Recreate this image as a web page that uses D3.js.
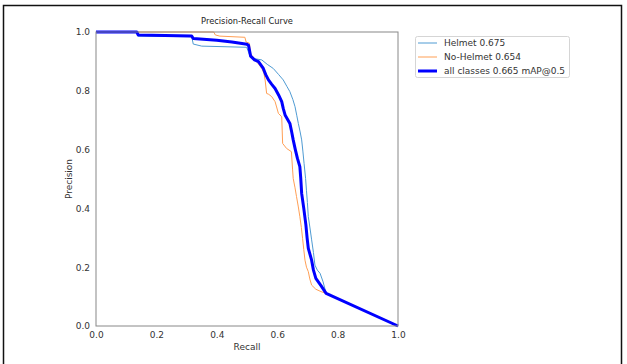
<!DOCTYPE html>
<html><head><meta charset="utf-8">
<script src="https://cdn.jsdelivr.net/npm/d3@7"></script>
<style>
html,body{margin:0;padding:0;background:#fff;}
svg{display:block;font-family:"DejaVu Sans",sans-serif;}
</style></head>
<body><svg id="c" width="627" height="364"></svg>
<script>
// ---- data ----
const title = "Precision-Recall Curve";
const xLabel = "Recall";
const yLabel = "Precision";
const tickValues = [0.0, 0.2, 0.4, 0.6, 0.8, 1.0];
const seriesNames = ["Helmet 0.675", "No-Helmet 0.654", "all classes 0.665 mAP@0.5"];

const helmetRecall = [0,0.135,0.138,0.317,0.322,0.35,0.499,0.51,0.521,0.549,0.567,0.587,0.605,0.62,0.632,0.642,0.652,0.659,0.665,0.67,0.676,0.681,0.685,0.689,0.694,0.697,0.70,0.703,0.709,0.714,0.72,0.725,0.733,0.742,0.752,0.762,1.0];
const helmetPrecision = [1,1,0.986,0.984,0.959,0.952,0.948,0.918,0.91,0.905,0.89,0.876,0.855,0.837,0.815,0.797,0.77,0.746,0.715,0.689,0.66,0.633,0.595,0.553,0.502,0.46,0.42,0.372,0.33,0.293,0.25,0.207,0.19,0.179,0.15,0.111,0.0];

const noHelmetRecall = [0,0.39,0.395,0.41,0.493,0.497,0.508,0.512,0.52,0.532,0.549,0.556,0.56,0.565,0.572,0.582,0.593,0.598,0.604,0.615,0.618,0.631,0.647,0.651,0.653,0.659,0.664,0.67,0.675,0.68,0.684,0.688,0.692,0.697,0.703,0.708,0.714,0.728,0.745,0.762,1.0];
const noHelmetPrecision = [1,1,0.99,0.986,0.982,0.966,0.962,0.925,0.915,0.899,0.876,0.86,0.837,0.791,0.788,0.78,0.763,0.745,0.723,0.712,0.621,0.604,0.593,0.531,0.502,0.47,0.44,0.405,0.372,0.335,0.298,0.26,0.224,0.2,0.185,0.16,0.139,0.125,0.117,0.111,0.0];

const allRecall = [0,0.135,0.14,0.317,0.322,0.40,0.45,0.50,0.505,0.512,0.525,0.538,0.554,0.562,0.571,0.582,0.593,0.605,0.615,0.62,0.626,0.642,0.648,0.653,0.66,0.667,0.675,0.678,0.681,0.688,0.695,0.699,0.703,0.714,0.72,0.728,0.745,0.762,1.0];
const allPrecision = [1,1,0.99,0.986,0.978,0.972,0.966,0.958,0.955,0.918,0.905,0.899,0.876,0.855,0.837,0.822,0.808,0.785,0.763,0.74,0.718,0.689,0.66,0.633,0.6,0.57,0.542,0.502,0.451,0.4,0.344,0.3,0.264,0.224,0.19,0.162,0.137,0.111,0.0];

// ---- drawing ----
const svg = d3.select("#c");
const L = 96, R = 398, T = 32, B = 326;
const x = d3.scaleLinear().domain([0,1]).range([L,R]);
const y = d3.scaleLinear().domain([0,1]).range([B,T]);

// outer frame
svg.append("path").attr("d","M3.5,364 L3.5,5.5 L621.5,5.5 L621.5,364")
  .attr("fill","none").attr("stroke","#111").attr("stroke-width",1.5);

const series = [
  {name:seriesNames[0], r:helmetRecall, p:helmetPrecision, color:"#4f9bd3", w:1},
  {name:seriesNames[1], r:noHelmetRecall, p:noHelmetPrecision, color:"#ff9f55", w:1},
  {name:seriesNames[2], r:allRecall, p:allPrecision, color:"#0000ff", w:3}
];
const line = d3.line().x(d=>x(d[0])).y(d=>y(d[1]));
const clip = svg.append("clipPath").attr("id","pc").append("rect")
  .attr("x",L-2).attr("y",T-2).attr("width",R-L+4).attr("height",B-T+4);
const g = svg.append("g").attr("clip-path","url(#pc)");
series.forEach(s=>{
  g.append("path").datum(s.r.map((v,i)=>[v,s.p[i]]))
    .attr("d",line).attr("fill","none").attr("stroke",s.color)
    .attr("stroke-width",s.w).attr("stroke-linejoin","round");
});

// spines
svg.append("rect").attr("x",L).attr("y",T).attr("width",R-L).attr("height",B-T)
  .attr("fill","none").attr("stroke","#888").attr("stroke-width",1);

// axes
const xa = svg.append("g").attr("transform",`translate(0,${B})`)
  .call(d3.axisBottom(x).tickValues(tickValues).tickFormat(d3.format(".1f")).tickSize(0).tickPadding(6));
const ya = svg.append("g").attr("transform",`translate(${L},0)`)
  .call(d3.axisLeft(y).tickValues(tickValues).tickFormat(d3.format(".1f")).tickSize(0).tickPadding(6));
[xa,ya].forEach(a=>{
  a.select(".domain").remove();
  a.selectAll("text").attr("font-size",9).attr("fill","#333").attr("font-family","DejaVu Sans");
});

svg.append("text").attr("x",(L+R)/2).attr("y",24).attr("text-anchor","middle")
  .attr("font-size",8.3).attr("fill","#222").text(title);
svg.append("text").attr("x",(L+R)/2).attr("y",350).attr("text-anchor","middle")
  .attr("font-size",9).attr("fill","#333").text(xLabel);
svg.append("text").attr("transform",`translate(72,${(T+B)/2}) rotate(-90)`).attr("text-anchor","middle")
  .attr("font-size",9).attr("fill","#333").text(yLabel);

// legend
const lg = svg.append("g");
lg.append("rect").attr("x",415.5).attr("y",36.5).attr("width",154).attr("height",41).attr("rx",2)
  .attr("fill","#fff").attr("fill-opacity",0.8).attr("stroke","#d5d5d5");
series.forEach((s,i)=>{
  const yy = 43 + i*14;
  lg.append("line").attr("x1",418).attr("x2",437).attr("y1",yy).attr("y2",yy)
    .attr("stroke",s.color).attr("stroke-width",s.w);
  lg.append("text").attr("x",444).attr("y",yy+3.3).attr("font-size",9).attr("fill","#333").text(s.name);
});
</script></body></html>
